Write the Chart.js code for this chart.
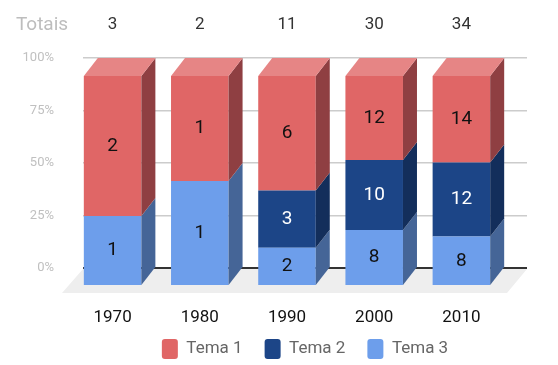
<!DOCTYPE html>
<html>
<head>
<meta charset="utf-8">
<script src="https://cdn.jsdelivr.net/npm/chart.js@4.4.1/dist/chart.umd.min.js"></script>
<style>
  html, body { margin: 0; padding: 0; background: #fff; }
  #wrap { width: 558px; height: 365px; }
</style>
</head>
<body>
<div id="wrap"><canvas id="myChart"></canvas></div>
<script>
// dados do gráfico
const decades = ["1970", "1980", "1990", "2000", "2010"];
const tema1 = [2, 1, 6, 12, 14];
const tema2 = [0, 0, 3, 10, 12];
const tema3 = [1, 1, 2, 8, 8];
const yTicks = [0, 25, 50, 75, 100];
const totalsTitle = "Totais";

const FONT = "Roboto, 'DejaVu Sans', sans-serif";
const DX = 14, DY = 18; // profundidade do efeito 3D

const totals = decades.map((_, i) => tema1[i] + tema2[i] + tema3[i]);
const toPct = (arr) => arr.map((v, i) => (v / totals[i]) * 100);

// cores: frente, lado, topo, texto
const looks = {
  "Tema 1": { front: "#e06666", side: "#8f3f42", top: "#e68585", text: "#111" },
  "Tema 2": { front: "#1c4587", side: "#132e5b", top: "#4a6aa0", text: "#fff" },
  "Tema 3": { front: "#6d9eeb", side: "#456597", top: "#8ab1ef", text: "#111" },
};

// Desenha chão, faces laterais/topo e rótulos
const threeD = {
  id: "threeD",
  afterLayout(chart) {
    // as categorias não ocupam toda a largura das linhas de grade
    const xs = chart.scales.x;
    xs.right = chart.chartArea.right - 8;
    xs.configure();
  },
  beforeDatasetsDraw(chart) {
    const { ctx, chartArea: a } = chart;
    const yb = chart.scales.y.getPixelForValue(0);
    ctx.save();
    ctx.fillStyle = "#eeeeee";
    ctx.beginPath();
    ctx.moveTo(a.left, yb + 1);
    ctx.lineTo(a.right, yb + 1);
    ctx.lineTo(a.right - 20, yb + 25);
    ctx.lineTo(a.left - 21, yb + 25);
    ctx.closePath();
    ctx.fill();
    ctx.restore();
    // as barras da biblioteca viram a face da frente
    ctx.save();
    ctx.translate(-DX, DY);
  },
  afterDatasetsDraw(chart) {
    const { ctx } = chart;
    ctx.restore();
    const nSets = chart.data.datasets.length;
    ctx.save();
    chart.data.datasets.forEach((ds, di) => {
      const look = looks[ds.label];
      const meta = chart.getDatasetMeta(di);
      meta.data.forEach((bar, i) => {
        if (!ds.raw[i]) return;
        const p = bar.getProps(["x", "y", "base", "width"], true);
        const x0 = p.x - p.width / 2 - DX, x1 = p.x + p.width / 2 - DX;
        const yt = p.y + DY, yb = p.base + DY;
        // lado
        ctx.fillStyle = look.side;
        ctx.beginPath();
        ctx.moveTo(x1, yb);
        ctx.lineTo(x1, yt);
        ctx.lineTo(x1 + DX, yt - DY);
        ctx.lineTo(x1 + DX, yb - DY);
        ctx.closePath();
        ctx.fill();
        // topo só no último segmento não-nulo
        let isTop = true;
        for (let k = di + 1; k < nSets; k++) if (chart.data.datasets[k].raw[i]) isTop = false;
        if (isTop) {
          ctx.fillStyle = look.top;
          ctx.beginPath();
          ctx.moveTo(x0, yt);
          ctx.lineTo(x1, yt);
          ctx.lineTo(x1 + DX, yt - DY);
          ctx.lineTo(x0 + DX, yt - DY);
          ctx.closePath();
          ctx.fill();
        }
        // valor
        ctx.fillStyle = look.text;
        ctx.font = "19px " + FONT;
        ctx.textAlign = "center";
        ctx.textBaseline = "middle";
        ctx.fillText(String(ds.raw[i]), p.x - DX, (yt + yb) / 2);
      });
    });
    // rótulos do eixo x e totais
    const xs = chart.scales.x;
    ctx.textAlign = "center";
    ctx.textBaseline = "middle";
    decades.forEach((d, i) => {
      const cx = xs.getPixelForValue(i) - DX;
      ctx.fillStyle = "#111";
      ctx.font = "17px " + FONT;
      ctx.fillText(d, cx, 318);
      ctx.fillStyle = "#333";
      ctx.font = "17px " + FONT;
      ctx.fillText(String(totals[i]), cx, 25);
    });
    ctx.fillStyle = "#bdbdbd";
    ctx.font = "19px " + FONT;
    ctx.fillText(totalsTitle, 42, 25);
    ctx.restore();
  },
};

const makeSet = (label, arr) => ({
  label: label,
  raw: arr,
  data: toPct(arr),
  backgroundColor: looks[label].front,
  borderWidth: 0,
  clip: false,
});

const ctx = document.getElementById("myChart").getContext("2d");
const myChart = new Chart(ctx, {
  type: "bar",
  data: {
    labels: decades,
    datasets: [makeSet("Tema 3", tema3), makeSet("Tema 2", tema2), makeSet("Tema 1", tema1)],
  },
  plugins: [threeD],
  options: {
    responsive: true,
    maintainAspectRatio: false,
    animation: false,
    categoryPercentage: 0.66,
    barPercentage: 1,
    layout: { padding: { top: 58, right: 31, left: 0, bottom: -4 } },
    scales: {
      x: {
        stacked: true,
        grid: { display: false },
        border: { display: false },
        ticks: { display: false },
        afterFit: (scale) => { scale.height = 49; },
      },
      y: {
        stacked: true,
        min: 0,
        max: 100,
        afterBuildTicks: (scale) => { scale.ticks = yTicks.map((v) => ({ value: v })); },
        afterFit: (scale) => { scale.width = 83; },
        border: { display: false },
        grid: {
          drawTicks: false,
          color: (c) => (c.tick && c.tick.value === 0 ? "#333" : "#cccccc"),
          lineWidth: (c) => (c.tick && c.tick.value === 0 ? 2 : 1.5),
        },
        ticks: {
          padding: 29,
          color: "#c0c0c0",
          font: { family: FONT, size: 13 },
          callback: (v) => v + "%",
        },
      },
    },
    plugins: {
      tooltip: { enabled: false },
      legend: {
        position: "bottom",
        fullSize: false,
        reverse: true,
        labels: {
          boxWidth: 16,
          boxHeight: 20,
          padding: 22,
          useBorderRadius: true,
          borderRadius: 3,
          color: "#666",
          font: { family: FONT, size: 17 },
        },
      },
    },
  },
});
</script>
</body>
</html>
